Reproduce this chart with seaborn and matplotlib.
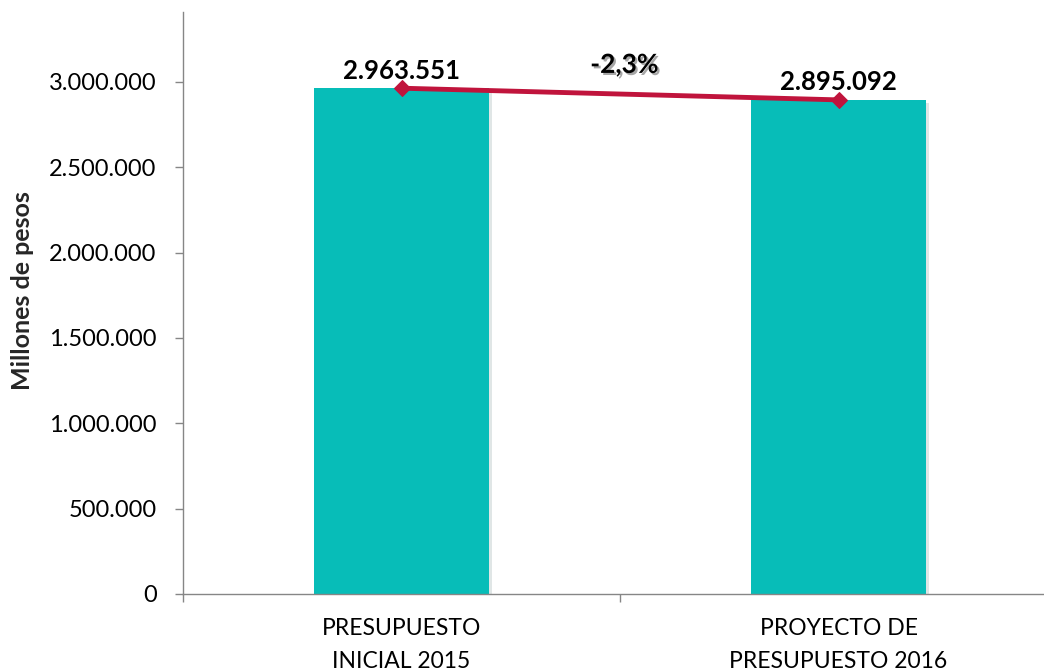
import matplotlib
matplotlib.use("Agg")
import matplotlib.pyplot as plt
import matplotlib.patheffects as pe
from matplotlib.ticker import FuncFormatter, FixedLocator
import seaborn as sns
import pandas as pd

categories = ["PRESUPUESTO\nINICIAL 2015", "PROYECTO DE\nPRESUPUESTO 2016"]
values = [2963551, 2895092]
value_labels = ["2.963.551", "2.895.092"]
change_label = "-2,3%"
y_ticks = [0, 500000, 1000000, 1500000, 2000000, 2500000, 3000000]

sns.set_theme(style="white")
plt.rcParams["font.family"] = ["Lato", "DejaVu Sans"]

df = pd.DataFrame({"cat": categories, "val": values})

fig = plt.figure(figsize=(10.44, 6.70), dpi=100)
ax = fig.add_axes([183/1044, 76/670, (1057-183)/1044, (594-12)/670])

sns.barplot(data=df, x="cat", y="val", color="#07BDB8", width=0.40,
            saturation=1, ax=ax, edgecolor="none")
for p in ax.patches:
    p.set_path_effects([pe.SimplePatchShadow(offset=(2, -2), alpha=0.12), pe.Normal()])

sns.lineplot(x=[0, 1], y=values, color="#C0143C", linewidth=3.5, marker="D",
             markersize=8, markeredgecolor="#C0143C", ax=ax, zorder=5)

for i, (v, lab) in enumerate(zip(values, value_labels)):
    ax.annotate(lab, (i, v), xytext=(0, 4), textcoords="offset points",
                ha="center", va="bottom", fontsize=18.5, fontweight="bold", color="black", zorder=6)

ax.text(0.51, 3100000, change_label, ha="center", va="center", fontsize=19,
        fontweight="bold", color="black",
        path_effects=[pe.withSimplePatchShadow(offset=(1.5, -1.5), alpha=0.35)])

ax.set_xlim(-0.5, 1.5)
ax.set_ylim(0, 3410000)
ax.set_yticks(y_ticks)
ax.yaxis.set_major_formatter(FuncFormatter(lambda v, p: f"{int(v):,}".replace(",", ".")))
ax.tick_params(axis="y", labelsize=17, colors="#868686", labelcolor="black",
               length=6, width=1, left=True, direction="out", pad=13)
ax.set_xticks([0, 1])
ax.set_xticklabels(categories, fontsize=16.5, color="black", linespacing=1.7)
ax.xaxis.set_minor_locator(FixedLocator([-0.5, 0.5, 1.5]))
ax.tick_params(axis="x", which="major", length=0, pad=17)
ax.tick_params(axis="x", which="minor", length=6, width=1, colors="#868686", bottom=True, direction="out")
ax.set_xlabel("")
ax.set_ylabel("Millones de pesos", fontsize=18, fontweight="bold", va="center")
ax.yaxis.set_label_coords(-0.184, 0.522)

for s in ["top", "right"]:
    ax.spines[s].set_visible(False)
for s in ["left", "bottom"]:
    ax.spines[s].set_color("#868686")
    ax.spines[s].set_linewidth(1)

fig.savefig("out.png", dpi=100)
